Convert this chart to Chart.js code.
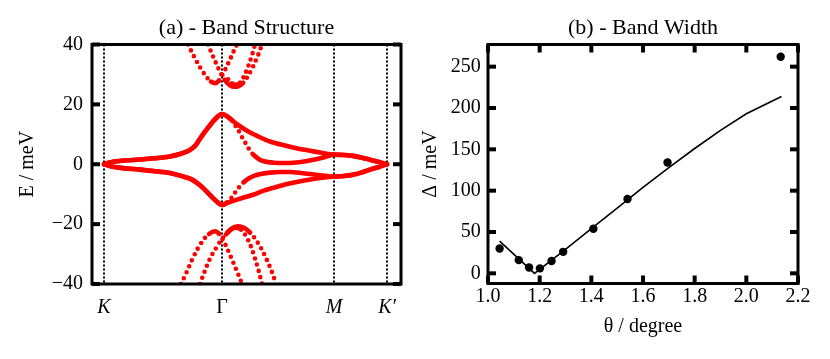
<!DOCTYPE html>
<html>
<head>
<meta charset="utf-8">
<script src="https://cdn.jsdelivr.net/npm/chart.js@4.4.1/dist/chart.umd.min.js"></script>
<style>
  html, body { margin: 0; padding: 0; background: #fff; }
  #wrap { position: relative; width: 830px; height: 359px; }
  canvas { position: absolute; top: 0; }
  #bandChart { left: 0; }
  #widthChart { left: 415px; }
</style>
</head>
<body>
<div id="wrap">
  <canvas id="bandChart" width="415" height="359"></canvas>
  <canvas id="widthChart" width="415" height="359"></canvas>
</div>
<script>
// ---- panel (a): band structure along K - Gamma - M - K' ----
const kTicks = [0, 118, 230, 283];
const kLabels = ['K', 'Γ', 'M', 'K′'];
const eTicks = [-40, -20, 0, 20, 40];

// K -> Gamma branches (each shared by two bands)
const kgUpper = [[0, 0], [4, 0.4], [9, 0.8], [19, 1.2], [36, 1.6], [56, 2.2], [66, 2.6], [76, 3.4], [82, 4.1], [86, 4.8], [90, 5.8], [93, 7.0], [96, 8.5], [99, 10.0], [104, 12.2], [109, 14.3], [114, 16.0], [118, 16.8]];
const kgLower = [[0, 0], [4, -0.4], [9, -0.8], [19, -1.3], [36, -1.8], [56, -2.5], [66, -2.9], [76, -3.8], [86, -4.8], [93, -6.2], [99, -7.9], [104, -9.6], [109, -11.3], [114, -12.8], [118, -13.6]];

// Gamma -> M
const gmUpperOuter = [[118, 16.8], [124, 15.8], [133, 13.4], [143, 11.2], [153, 9.5], [166, 7.6], [182, 6.2], [199, 4.9], [216, 3.9], [230, 3.2]];
const gmUpperInner = [[118, 16.8], [123, 16.0], [128, 14.6], [132, 12.6], [136, 10.4], [139, 8.4], [143, 6.3], [146, 4.5], [150, 3.0], [155, 1.7], [161, 0.9], [170, 0.5], [180, 0.4], [192, 0.6], [203, 1.1], [212, 1.7], [222, 2.5], [230, 3.2]];
const gmLowerOuter = [[118, -13.6], [124, -12.8], [133, -11.8], [149, -10.2], [159, -8.9], [170, -7.8], [183, -6.6], [199, -5.5], [216, -4.6], [230, -4.1]];
const gmLowerInner = [[118, -13.6], [123, -12.8], [128, -11.0], [132, -9.0], [136, -7.3], [140, -5.9], [145, -4.7], [150, -3.9], [158, -3.2], [166, -2.8], [176, -2.6], [186, -2.6], [199, -3.0], [210, -3.4], [220, -3.8], [230, -4.1]];

// M -> K'
const mkUpper = [[230, 3.2], [240, 3.1], [249, 2.8], [258, 2.2], [266, 1.5], [275, 0.8], [283, 0]];
const mkLower = [[230, -4.1], [240, -3.9], [249, -3.5], [258, -2.7], [266, -1.8], [275, -0.9], [283, 0]];

// remote bands near Gamma
const remoteUp1 = [[84, 40], [90, 36.0], [96, 32.4], [102, 29.4], [107, 27.6], [111, 27.1], [115, 28.0], [118, 29.6], [122, 32.2], [126, 35.0], [130, 38.0], [133, 40]];
const remoteUp2 = [[104, 40], [108, 36.8], [112, 33.8], [115, 31.6], [118, 29.6], [122, 27.6], [126, 26.4], [130, 25.9], [134, 26.0], [139, 27.2], [144, 29.5], [149, 32.6], [154, 36.4], [158, 40]];
const remoteUp3 = [[124, 28.4], [128, 27.0], [132, 26.5], [136, 27.2], [140, 29.4], [144, 32.6], [148, 36.4], [151, 40]];
const remoteDown1 = [[77, -40], [82, -36.5], [88, -32.0], [94, -28.0], [100, -25.0], [105, -23.3], [111, -22.4], [115, -23.2], [118, -24.8], [121, -26.6], [125, -29.5], [130, -33.4], [135, -37.4], [138, -40]];
const remoteDown2 = [[96, -40], [101, -35.5], [106, -31.5], [112, -28.0], [118, -25.0], [124, -22.6], [129, -21.2], [134, -20.7], [140, -21.2], [146, -22.8], [152, -25.3], [158, -28.6], [164, -32.8], [169, -37.0], [172, -40]];
const remoteDown3 = [[122, -23.4], [127, -21.8], [132, -21.2], [137, -21.8], [142, -24.0], [147, -27.5], [151, -31.5], [155, -36.0], [158, -40]];

// ---- panel (b): band width vs twist angle ----
const thetaPoints = [1.045, 1.119, 1.159, 1.201, 1.246, 1.291, 1.408, 1.540, 1.695, 2.133];
const widthPoints = [30, 16, 7, 6, 15, 26, 54, 90, 134, 262];
const thetaFit = [1.045, 1.18, 1.3, 1.4, 1.5, 1.6, 1.7, 1.8, 1.9, 2.0, 2.136];
const widthFit = [39, 0, 29, 54, 79, 104, 128, 151, 173, 193, 214];
const thetaTicks = [1.0, 1.2, 1.4, 1.6, 1.8, 2.0, 2.2];
const widthTicks = [0, 50, 100, 150, 200, 250];

const FONT = "'Liberation Serif', 'Times New Roman', serif";
const RED = '#ff0000';
Chart.defaults.font.family = FONT;
Chart.defaults.color = '#000';

// thick box round the plot area, with inward tick marks
// xValues go on bottom + top, yValues on left + right
function framePlugin(xValues, yValues) {
    return {
        id: 'boxTicks',
        afterDraw(chart) {
            const { ctx, chartArea: a } = chart;
            ctx.save();
            ctx.fillStyle = '#000';
            for (const v of xValues) {
                const p = chart.scales.x.getPixelForValue(v);
                ctx.fillRect(p - 2, a.top, 4, 8);
                ctx.fillRect(p - 2, a.bottom - 8, 4, 8);
            }
            for (const v of yValues) {
                const p = chart.scales.y.getPixelForValue(v);
                ctx.fillRect(a.left, p - 2, 8, 4);
                ctx.fillRect(a.right - 8, p - 2, 8, 4);
            }
            ctx.strokeStyle = '#000';
            ctx.lineWidth = 3;
            ctx.strokeRect(a.left, a.top, a.right - a.left, a.bottom - a.top);
            ctx.restore();
        }
    };
}

const toXY = pts => pts.map(p => ({ x: p[0], y: p[1] }));

// steep pieces are drawn as separate dots, like the sampled k-points
function steepDots(fromK) {
    return ctx => {
        if (ctx.p0.parsed.x < fromK) return undefined;
        const dx = Math.abs(ctx.p1.x - ctx.p0.x);
        const dy = Math.abs(ctx.p1.y - ctx.p0.y);
        return dy > 1.0 * dx ? [0, 6.5] : undefined;
    };
}

function bandDataset(pts, fromK) {
    return {
        data: toXY(pts),
        borderColor: RED,
        backgroundColor: RED,
        borderWidth: 4.6,
        pointRadius: 0,
        cubicInterpolationMode: 'monotone',
        borderCapStyle: 'round',
        borderJoinStyle: 'round',
        fill: false,
        segment: { borderDash: steepDots(fromK) }
    };
}

const setTicks = (ticks) => (scale) => { scale.ticks = ticks.map(v => ({ value: v })); };
const minusSign = v => String(v).replace('-', '\u2212');

new Chart(document.getElementById('bandChart'), {
    type: 'line',
    data: {
        datasets: [
            bandDataset(kgUpper.concat(gmUpperOuter.slice(1), mkUpper.slice(1)), 118),
            bandDataset(kgUpper.concat(gmUpperInner.slice(1), mkUpper.slice(1)), 118),
            bandDataset(kgLower.concat(gmLowerOuter.slice(1), mkLower.slice(1)), 118),
            bandDataset(kgLower.concat(gmLowerInner.slice(1), mkLower.slice(1)), 118),
            bandDataset(remoteUp1, 0),
            bandDataset(remoteUp2, 0),
            bandDataset(remoteUp3, 0),
            bandDataset(remoteDown1, 0),
            bandDataset(remoteDown2, 0),
            bandDataset(remoteDown3, 0)
        ]
    },
    options: {
        responsive: false,
        animation: false,
        layout: { padding: { left: 0, right: 14, top: 0, bottom: 0 } },
        plugins: {
            legend: { display: false },
            tooltip: { enabled: false },
            title: {
                display: true,
                text: '(a) - Band Structure',
                fullSize: false,
                color: '#000',
                font: { family: FONT, size: 22, weight: 'normal' },
                padding: { top: 14.8, bottom: 3.3 }
            }
        },
        scales: {
            x: {
                type: 'linear',
                min: -12,
                max: 297,
                z: 1,
                afterBuildTicks: setTicks(kTicks),
                afterFit: s => { s.height = 75; },
                ticks: {
                    autoSkip: false,
                    maxRotation: 0,
                    padding: 12,
                    color: '#000',
                    callback: (v, i) => kLabels[i],
                    font: ctx => ({ family: FONT, size: 20, style: ctx.index === 1 ? 'normal' : 'italic' })
                },
                grid: { color: '#000', lineWidth: 2, drawTicks: false },
                border: { display: false, dash: [2, 2] }
            },
            y: {
                min: -40,
                max: 40,
                afterBuildTicks: setTicks(eTicks),
                afterFit: s => { s.width = 92; },
                ticks: { padding: 9, color: '#000', font: { size: 20 }, callback: minusSign },
                grid: { display: false, drawTicks: false },
                border: { display: false },
                title: {
                    display: true,
                    text: 'E / meV',
                    color: '#000',
                    font: { family: FONT, size: 20 },
                    padding: { top: 16, bottom: 0 }
                }
            }
        }
    },
    plugins: [framePlugin([], eTicks)]
});

new Chart(document.getElementById('widthChart'), {
    type: 'line',
    data: {
        datasets: [
            {
                type: 'scatter',
                data: thetaPoints.map((t, i) => ({ x: t, y: widthPoints[i] })),
                backgroundColor: '#000',
                borderColor: '#000',
                borderWidth: 0,
                pointRadius: 4.2
            },
            {
                data: thetaFit.map((t, i) => ({ x: t, y: widthFit[i] })),
                borderColor: '#000',
                borderWidth: 1.6,
                pointRadius: 0,
                tension: 0,
                fill: false
            }
        ]
    },
    options: {
        responsive: false,
        animation: false,
        layout: { padding: { left: 0, right: 32, top: 0, bottom: 0 } },
        plugins: {
            legend: { display: false },
            tooltip: { enabled: false },
            title: {
                display: true,
                text: '(b) - Band Width',
                fullSize: false,
                color: '#000',
                font: { family: FONT, size: 22, weight: 'normal' },
                padding: { top: 14.8, bottom: 3.3 }
            }
        },
        scales: {
            x: {
                type: 'linear',
                min: 1.0,
                max: 2.2,
                afterBuildTicks: setTicks(thetaTicks),
                afterFit: s => { s.height = 75.5; },
                ticks: { padding: 1.5, color: '#000', font: { size: 20 }, maxRotation: 0, callback: v => v.toFixed(1) },
                grid: { display: false, drawTicks: false },
                border: { display: false },
                title: {
                    display: true,
                    text: 'θ / degree',
                    color: '#000',
                    font: { family: FONT, size: 20 },
                    padding: { top: 0, bottom: 20 }
                }
            },
            y: {
                min: -12.3,
                max: 276.8,
                afterBuildTicks: setTicks(widthTicks),
                afterFit: s => { s.width = 73; },
                ticks: { padding: 7.3, color: '#000', font: { size: 20 } },
                grid: { display: false, drawTicks: false },
                border: { display: false },
                title: {
                    display: true,
                    text: 'Δ / meV',
                    color: '#000',
                    font: { family: FONT, size: 20 },
                    padding: { top: 4, bottom: 0 }
                }
            }
        }
    },
    plugins: [framePlugin(thetaTicks, widthTicks)]
});
</script>
</body>
</html>
